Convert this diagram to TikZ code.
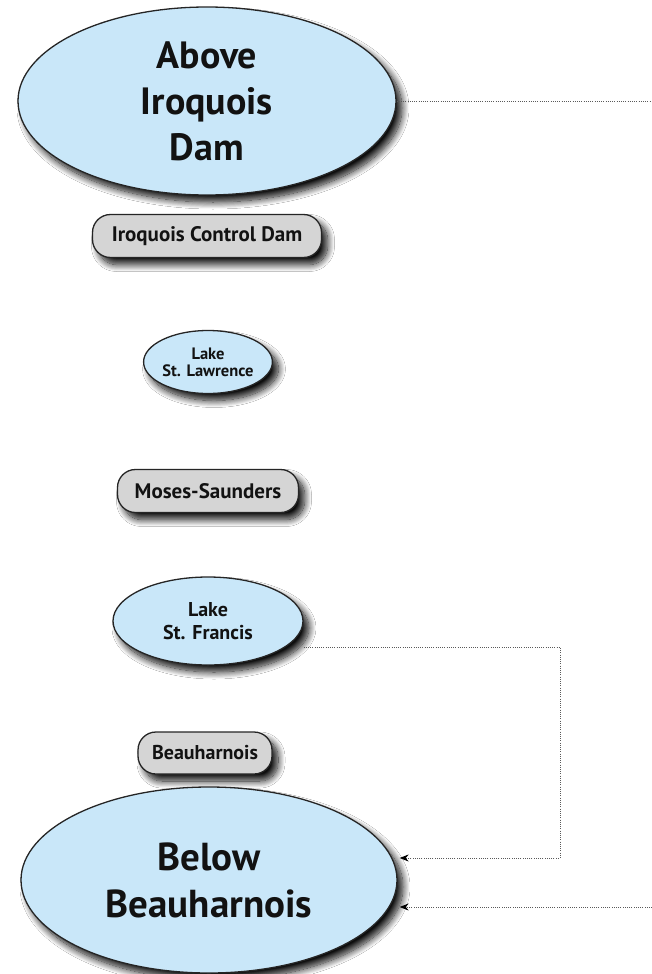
\documentclass[tikz,border=0pt]{standalone}
\usepackage{fontspec}
\setmainfont{PT Sans}
\usetikzlibrary{shapes.geometric,shadows.blur,arrows.meta}
\definecolor{lakeblue}{HTML}{C9E7F9}
\definecolor{damgray}{HTML}{D5D5D5}
\definecolor{edgecol}{HTML}{252525}
\definecolor{dotgray}{HTML}{5A5A5A}
\definecolor{txt}{HTML}{121212}
\begin{document}
\begin{tikzpicture}[x=1pt,y=-1pt,
  sh/.style={blur shadow={shadow xshift=6pt,shadow yshift=-7pt,shadow blur radius=7pt,shadow blur steps=14,shadow opacity=95}},
  lake/.style={ellipse,draw=edgecol,line width=1.3pt,fill=lakeblue,inner sep=0pt,sh,align=center,text=txt},
  dambox/.style={rectangle,rounded corners=18pt,draw=edgecol,line width=1.3pt,fill=damgray,inner sep=0pt,sh,align=center,text=txt,minimum height=43pt},
  flow/.style={draw=dotgray,line width=0.9pt,dash pattern=on 0.9pt off 1.3pt},
  tip/.style={-{Stealth[length=9pt,width=7pt,black]}}
]
\useasboundingbox (0,0) rectangle (652,974);
\fill[white] (0,0) rectangle (652,974);

\node[lake,minimum width=378pt,minimum height=188pt,font=\bfseries\fontsize{38}{46}\selectfont] (AID) at (207,101) {Above\\Iroquois\\Dam};
\node[dambox,minimum width=229pt,font=\bfseries\fontsize{21}{24}\selectfont] (ICD) at (207,236) {Iroquois Control Dam};
\node[lake,minimum width=127pt,minimum height=63pt,font=\bfseries\fontsize{16.5}{17}\selectfont] (LSL) at (208,362) {Lake\\St. Lawrence};
\node[dambox,minimum width=181pt,font=\bfseries\fontsize{21}{24}\selectfont] (MS) at (208,491) {Moses-Saunders};
\node[lake,minimum width=190pt,minimum height=88pt,font=\bfseries\fontsize{20}{23}\selectfont] (LSF) at (208,621) {Lake\\St. Francis};
\node[dambox,minimum width=134pt,minimum height=42pt,font=\bfseries\fontsize{20}{23}\selectfont] (BH) at (205,753) {Beauharnois};
\node[lake,minimum width=376pt,minimum height=186pt,font=\bfseries\fontsize{39}{47}\selectfont] (BB) at (209,880) {Below\\Beauharnois};

\coordinate (r1) at (652,101);
\coordinate (c1) at (560,647);
\coordinate (c2) at (560,858);
\coordinate (r2) at (652,907);

\draw[flow] (AID.east) -- (r1);
\draw[flow,tip] ([yshift=-26pt]LSF.east) -- (c1) -- (c2) -- ([xshift=2pt,yshift=22pt]BB.east);
\draw[flow,tip] (r2) -- ([xshift=2pt,yshift=-27pt]BB.east);
\end{tikzpicture}
\end{document}
